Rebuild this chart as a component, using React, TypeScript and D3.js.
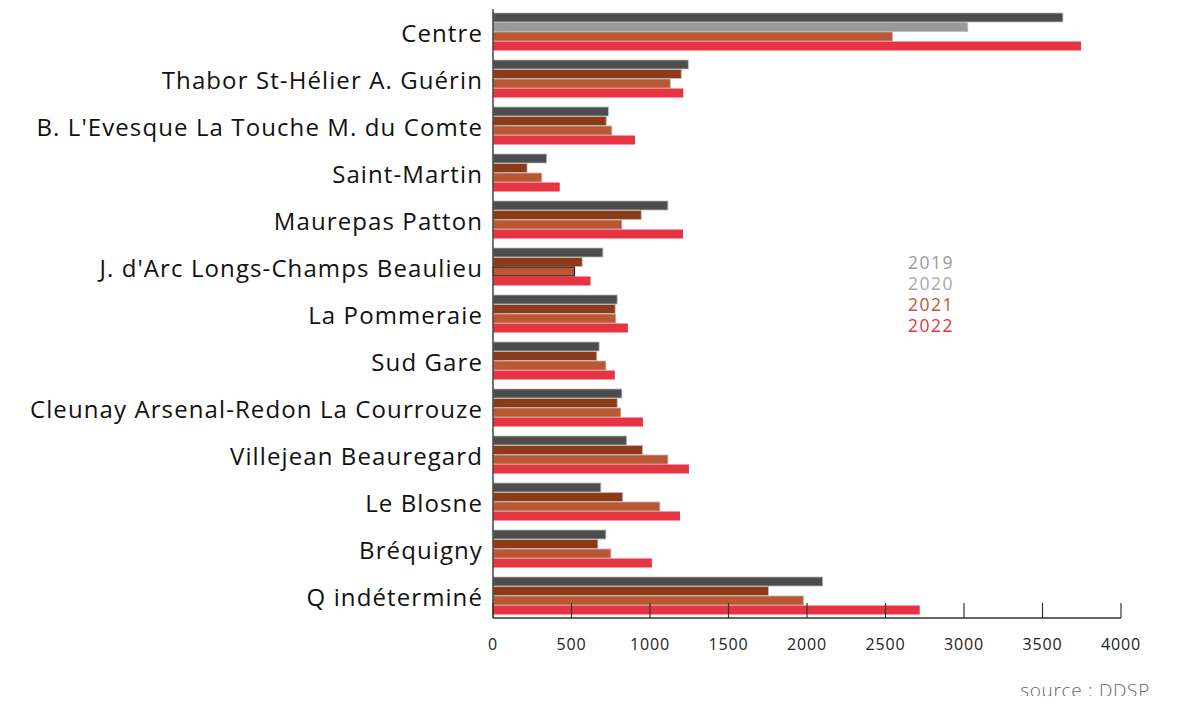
import React from 'react';
import * as d3 from 'd3';

// quartiers
const categories = [
  'Centre',
  'Thabor St-Hélier A. Guérin',
  "B. L'Evesque La Touche M. du Comte",
  'Saint-Martin',
  'Maurepas Patton',
  "J. d'Arc Longs-Champs Beaulieu",
  'La Pommeraie',
  'Sud Gare',
  'Cleunay Arsenal-Redon La Courrouze',
  'Villejean Beauregard',
  'Le Blosne',
  'Bréquigny',
  'Q indéterminé',
];
const years = ['2019', '2020', '2021', '2022'];

const v2019 = [3630, 1244, 735, 342, 1114, 700, 791, 676, 821, 851, 687, 719, 2100];
const v2020 = [3024, 1199, 721, 217, 944, 568, 778, 661, 791, 953, 826, 668, 1754];
const v2021 = [2545, 1129, 757, 311, 821, 519, 782, 719, 814, 1114, 1063, 751, 1978];
const v2022 = [3745, 1212, 904, 425, 1210, 621, 859, 776, 955, 1248, 1191, 1012, 2718];
const series = [v2019, v2020, v2021, v2022];

const xTickValues = [0, 500, 1000, 1500, 2000, 2500, 3000, 3500, 4000];

const barColors = ['#4d4d4d', '#8c3a18', '#bb5733', '#e63442'];
const legendColors = ['#999999', '#a8a8a8', '#c0572e', '#e63442'];

const W = 1180;
const H = 704;

export default function App() {
  const x = d3.scaleLinear().domain([0, 4000]).range([493, 1121]);
  const y = d3.scaleBand<string>().domain(categories).range([13, 615]).paddingInner(9 / 47).paddingOuter(0);
  const yy = d3.scaleBand<string>().domain(years).range([0, y.bandwidth()]);
  const axisY = 618;
  const font = "'Open Sans', sans-serif";

  // 2020 du Centre en gris clair comme sur l'original
  const colorFor = (si: number, ci: number) => (si === 1 && ci === 0 ? '#9a9a9a' : barColors[si]);

  return (
    <div style={{ margin: -8 }}>
      <svg width={W} height={H} style={{ display: 'block', background: '#fff' }}>
        {/* ticks y */}
        {categories.map(c => (
          <line key={'yt' + c} x1={x(0)} x2={x(0) + 13} y1={y(c)! + y.bandwidth() / 2} y2={y(c)! + y.bandwidth() / 2} stroke="#444" strokeWidth={1.5} />
        ))}
        {/* barres */}
        {categories.map((c, ci) => (
          <g key={c} transform={`translate(0,${y(c)})`}>
            {years.map((yr, si) => (
              <rect
                key={yr}
                x={x(0)}
                y={yy(yr)}
                width={x(series[si][ci]) - x(0)}
                height={yy.bandwidth() - 0.5}
                fill={colorFor(si, ci)}
                stroke={si === 2 && ci === 5 ? '#222' : si === 3 ? 'none' : '#bbb'}
                strokeWidth={si === 2 && ci === 5 ? 1.2 : 0.8}
              />
            ))}
            <text
              x={483}
              y={y.bandwidth() / 2 + 0.5}
              textAnchor="end"
              dominantBaseline="central"
              fontFamily={font}
              fontSize={24}
              letterSpacing={1.1}
              fill="#111"
            >
              {c}
            </text>
          </g>
        ))}
        {/* axes */}
        <line x1={x(0)} x2={x(0)} y1={9} y2={axisY} stroke="#444" strokeWidth={1.5} />
        <line x1={x(0)} x2={x(4000)} y1={axisY} y2={axisY} stroke="#333" strokeWidth={1.5} />
        {xTickValues.map(t => (
          <g key={t} transform={`translate(${x(t)},0)`}>
            <line y1={axisY - 15} y2={axisY} stroke="#333" strokeWidth={1.2} />
            <text y={650} textAnchor="middle" fontFamily={font} fontSize={16} letterSpacing={0.8} fill="#222">
              {t}
            </text>
          </g>
        ))}
        {/* légende */}
        {years.map((yr, i) => (
          <text key={yr} x={908} y={268.5 + i * 21.3} fontFamily={font} fontSize={17.5} letterSpacing={1.5} fill={legendColors[i]}>
            {yr}
          </text>
        ))}
        <text x={1150} y={697} textAnchor="end" fontFamily={font} fontSize={19} fontWeight={300} letterSpacing={0.7} fill="#666">
          source : DDSP
        </text>
      </svg>
    </div>
  );
}
